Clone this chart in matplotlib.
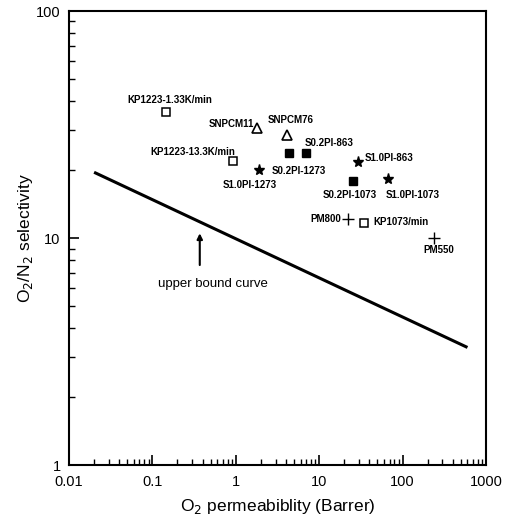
import matplotlib
matplotlib.use("Agg")
import matplotlib.pyplot as plt
import numpy as np

plt.rcParams['font.family'] = ['Liberation Sans', 'DejaVu Sans']

# membrane data: O2 permeability (Barrer), O2/N2 selectivity
kp_x = [0.146, 0.925, 34.4]
kp_y = [35.9, 21.8, 11.6]
kp_lab = ['KP1223-1.33K/min', 'KP1223-13.3K/min', 'KP1073/min']

snpcm_x = [1.8, 4.1]
snpcm_y = [30.5, 28.5]
snpcm_lab = ['SNPCM11', 'SNPCM76']

s02_x = [4.3, 7.0, 25.4]
s02_y = [23.6, 23.6, 17.9]
s02_lab = ['S0.2PI-1273', 'S0.2PI-863', 'S0.2PI-1073']

s10_x = [1.9, 29.0, 66.0]
s10_y = [20.0, 21.6, 18.3]
s10_lab = ['S1.0PI-1273', 'S1.0PI-863', 'S1.0PI-1073']

pm_x = [22.1, 240.0]
pm_y = [12.2, 10.0]
pm_lab = ['PM800', 'PM550']

# upper bound (end points)
ub_x = [0.02, 600]
ub_y = [19.5, 3.3]

fig = plt.figure(figsize=(5.11, 5.28), dpi=100)
ax = fig.add_axes([0.135, 0.119, 0.816, 0.860])
ax.set_xscale('log')
ax.set_yscale('log')
ax.set_xlim(0.01, 1000)
ax.set_ylim(1, 100)

ax.plot(ub_x, ub_y, color='black', lw=2.2, solid_capstyle='butt')

ax.plot(kp_x, kp_y, 's', mfc='white', mec='black', ms=6, mew=1.1, ls='none')
ax.plot(snpcm_x, snpcm_y, '^', mfc='white', mec='black', ms=7, mew=1.2, ls='none')
ax.plot(s02_x, s02_y, 's', color='black', ms=6, ls='none')
ax.plot(s10_x, s10_y, '*', color='black', ms=8, ls='none')
ax.plot(pm_x, pm_y, '+', color='black', ms=8, mew=1.0, ls='none')

lab_kw = dict(textcoords='offset pixels', ha='center', va='center',
              fontsize=7, fontweight='bold')

kp_off = [(4, 12), (-40, 9), (37, 1)]
snpcm_off = [(-26, 4), (4, 15)]
s02_off = [(10, -18), (23, 10), (-3, -14)]
s10_off = [(-9, -15), (31, 4), (25, -16)]
pm_off = [(-22, 0), (4, -12)]

for xs, ys, labs, offs in [(kp_x, kp_y, kp_lab, kp_off),
                           (snpcm_x, snpcm_y, snpcm_lab, snpcm_off),
                           (s02_x, s02_y, s02_lab, s02_off),
                           (s10_x, s10_y, s10_lab, s10_off),
                           (pm_x, pm_y, pm_lab, pm_off)]:
    for x, y, t, o in zip(xs, ys, labs, offs):
        ax.annotate(t, (x, y), xytext=o, **lab_kw)

ax.annotate('', xy=(0.37, 10.8), xytext=(0.37, 7.4),
            arrowprops=dict(arrowstyle='-|>', color='black', lw=1.5,
                            mutation_scale=8))
ax.text(0.53, 6.3, 'upper bound curve', ha='center', va='center', fontsize=9.5)

ax.set_xticks([0.01, 0.1, 1, 10, 100, 1000])
ax.set_xticklabels(['0.01', '0.1', '1', '10', '100', '1000'])
ax.set_yticks([1, 10, 100])
ax.set_yticklabels(['1', '10', '100'])
ax.tick_params(which='major', direction='in', length=7, width=1.2, labelsize=10.5)
ax.tick_params(which='minor', direction='in', length=4.5, width=1.0)
ax.tick_params(axis='x', pad=7)
ax.tick_params(axis='y', pad=6)
for s in ax.spines.values():
    s.set_linewidth(1.5)

ax.set_xlabel(r'O$_2$ permeabiblity (Barrer)', fontsize=12.5, labelpad=6)
ax.set_ylabel(r'O$_2$/N$_2$ selectivity', fontsize=12.5, labelpad=1)

fig.savefig('out.png', dpi=100)
